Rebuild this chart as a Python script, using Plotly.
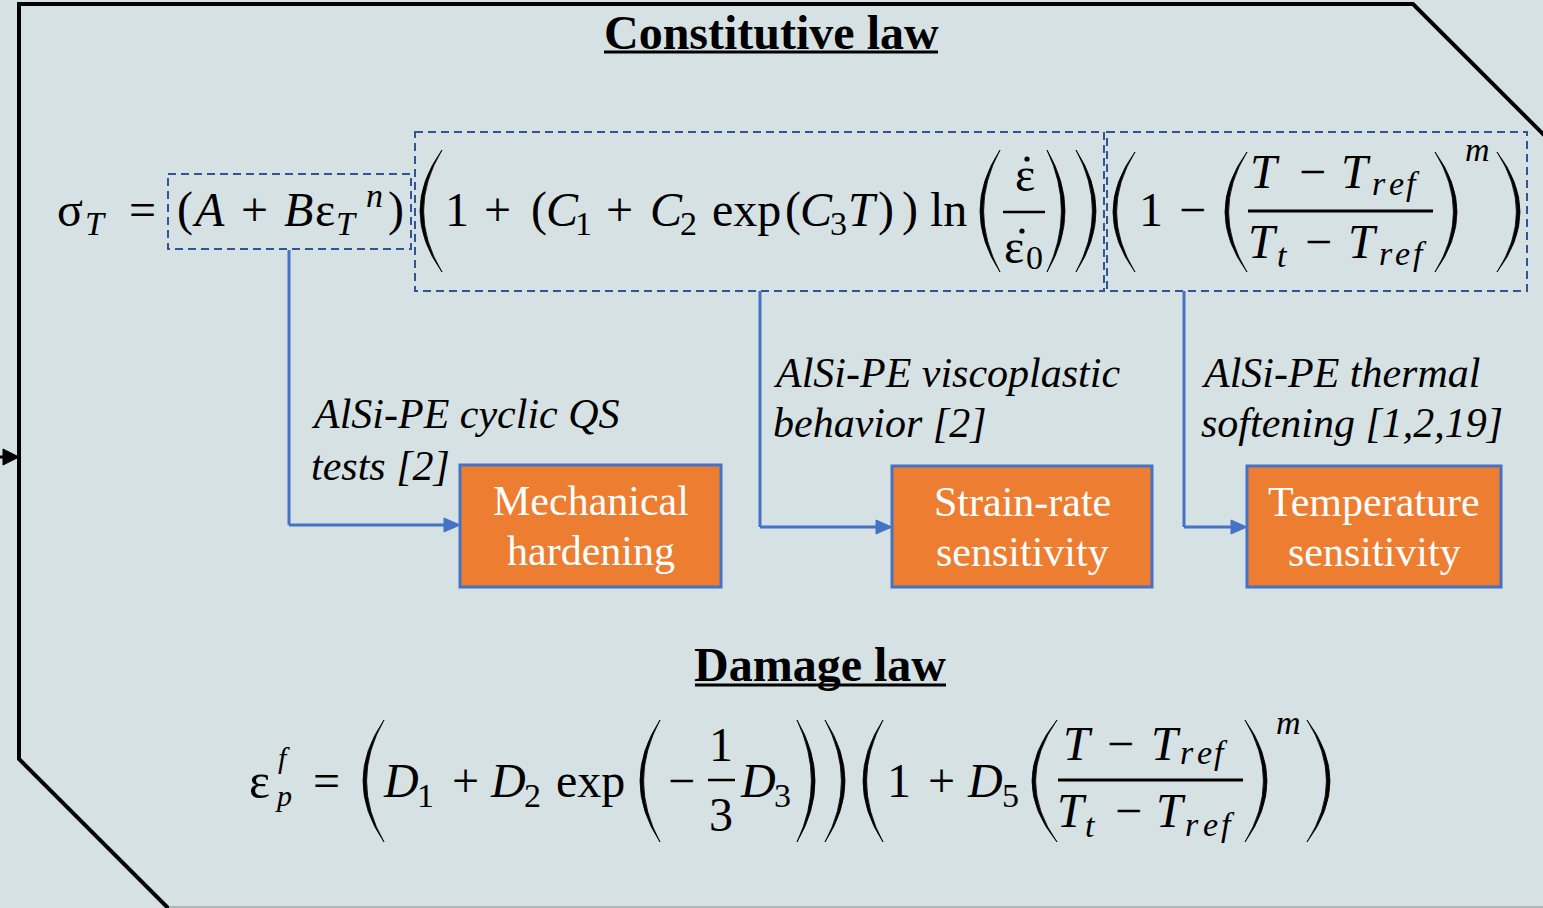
import plotly.graph_objects as go

# ---------------- content (text) ----------------
TITLE_TOP = "Constitutive law"
TITLE_BOTTOM = "Damage law"
BOX_LABELS = [["Mechanical", "hardening"],
              ["Strain-rate", "sensitivity"],
              ["Temperature", "sensitivity"]]
SOURCE_LABELS = [["AlSi-PE cyclic QS", "tests [2]"],
                 ["AlSi-PE viscoplastic", "behavior [2]"],
                 ["AlSi-PE thermal", "softening [1,2,19]"]]

# ---------------- layout geometry (pixels, y downwards) ----------------
W, H = 1543, 908
BG = "#D6E1E3"
BLUE = "#4472C4"
DASH_BLUE = "#2F5597"
ORANGE = "#ED7D31"
SERIF = "Liberation Serif"

BOX_RECTS = [(460, 465, 721, 587), (892, 466, 1152, 587), (1247, 466, 1501, 587)]
SOURCE_POS = [(310, 414, 466), (772, 373, 423), (1200, 373, 423)]
CONNECT = [(289, 250, 525), (760, 291, 527), (1184, 291, 527)]
DASH_RECTS = [(168, 174, 411, 249), (415, 132, 1104, 291), (1107, 132, 1527, 291)]

shapes, annotations = [], []


def txt(x, y, s, size=48, italic=False, color="black", xanchor="center", family=SERIF):
    annotations.append(dict(
        x=x, y=y, xref="x", yref="y", text=s, showarrow=False,
        xanchor=xanchor, yanchor="middle", borderpad=0,
        font=dict(family=family, size=size, color=color,
                  style="italic" if italic else "normal")))


def word(x0, x1, y, letters, size=34, italic=True):
    n = len(letters)
    step = (x1 - x0) / n
    for i, ch in enumerate(letters):
        txt(x0 + step * (i + 0.5), y, ch, size, italic)


def seg(x0, y0, x1, y1, color="black", width=3, dash=None):
    ln = dict(color=color, width=width)
    if dash:
        ln["dash"] = dash
    shapes.append(dict(type="line", xref="x", yref="y", x0=x0, y0=y0, x1=x1, y1=y1, line=ln))


def paren(xa, xb, y0, y1, left=True, th=3.6):
    ym = (y0 + y1) / 2
    if left:
        tip, ext, ext_in = xb, xa, xa + th
    else:
        tip, ext, ext_in = xa, xb, xb - th
    c_out = 2 * ext - tip
    c_in = 2 * ext_in - tip
    path = f"M {tip},{y0} Q {c_out},{ym} {tip},{y1} Q {c_in},{ym} {tip},{y0} Z"
    shapes.append(dict(type="path", xref="x", yref="y", path=path,
                       fillcolor="black", line=dict(color="black", width=0.8)))


def dot(x, y, r=2.6):
    shapes.append(dict(type="circle", xref="x", yref="y", x0=x - r, x1=x + r, y0=y - r, y1=y + r,
                       fillcolor="black", line=dict(width=0)))


def tri(points, color):
    p = "M " + " L ".join(f"{a},{b}" for a, b in points) + " Z"
    shapes.append(dict(type="path", xref="x", yref="y", path=p, fillcolor=color, line=dict(color=color, width=1)))


# ---------------- outer frame ----------------
shapes.append(dict(type="path", xref="x", yref="y",
                   path="M 1560,151 L 1413,4 L 19,4 L 19,759 L 169,909",
                   line=dict(color="black", width=4)))
seg(169, 907, 1543, 907, color="#AEB6B8", width=2)
seg(0, 457, 12, 457, color="black", width=3)
tri([(3, 449), (19, 457), (3, 465)], "black")

# ---------------- titles ----------------
txt(771, 32, f"<b>{TITLE_TOP}</b>", 48)
seg(604, 52, 938, 52, width=3)
txt(820, 664, f"<b>{TITLE_BOTTOM}</b>", 48)
seg(695, 685, 946, 685, width=3)

# ---------------- dashed boxes ----------------
for (x0, y0, x1, y1) in DASH_RECTS:
    shapes.append(dict(type="rect", xref="x", yref="y", x0=x0, y0=y0, x1=x1, y1=y1,
                       line=dict(color=DASH_BLUE, width=2, dash="8px,5px"), fillcolor="rgba(0,0,0,0)"))

# ---------------- connectors ----------------
for (cx, ytop, yarr), (bx0, by0, bx1, by1) in zip(CONNECT, BOX_RECTS):
    seg(cx, ytop, cx, yarr, color=BLUE, width=3)
    seg(cx, yarr, bx0 - 12, yarr, color=BLUE, width=3)
    tri([(bx0 - 16, yarr - 7), (bx0, yarr), (bx0 - 16, yarr + 7)], BLUE)

# ---------------- orange boxes ----------------
for (x0, y0, x1, y1), lines in zip(BOX_RECTS, BOX_LABELS):
    shapes.append(dict(type="rect", xref="x", yref="y", x0=x0, y0=y0, x1=x1, y1=y1,
                       fillcolor=ORANGE, line=dict(color=BLUE, width=3)))
    cx, cy = (x0 + x1) / 2, (y0 + y1) / 2
    txt(cx, cy - 25, lines[0], 42, color="white")
    txt(cx, cy + 25, lines[1], 42, color="white")

# ---------------- source labels ----------------
for (lx, y1, y2), lines in zip(SOURCE_POS, SOURCE_LABELS):
    txt(lx, y1, lines[0], 42, italic=True, xanchor="left")
    txt(lx, y2, lines[1], 42, italic=True, xanchor="left")

# ---------------- constitutive equation ----------------
M, S = 48, 34
Y = 209
SB = Y + 14
txt(70, Y, "σ", M)
txt(95, SB, "T", S, True)
txt(142, Y, "=", M)
txt(185, Y, "(", M)
txt(208, Y, "A", M, True)
txt(254, Y, "+", M)
txt(298, Y, "B", M, True)
txt(325, Y, "ε", M)
txt(346, SB, "T", S, True)
txt(374, 195, "n", S, True)
txt(396, Y, ")", M)

paren(420, 442, 150, 272, True)
txt(457, Y, "1", M)
txt(497, Y, "+", M)
txt(539, Y, "(", M)
txt(562, Y, "C", M, True)
txt(583, SB, "1", S)
txt(619, Y, "+", M)
txt(666, Y, "C", M, True)
txt(688, SB, "2", S)
txt(746, Y, "exp", M)
txt(793, Y, "(", M)
txt(816, Y, "C", M, True)
txt(838, SB, "3", S)
txt(863, Y, "T", M, True)
txt(886, Y, ")", M)
txt(910, Y, ")", M)
txt(948, Y, "ln", M)
paren(980, 1000, 150, 272, True)
txt(1025, 174, "ε", M)
dot(1027, 159)
seg(1003, 212, 1045, 212, width=2.5)
txt(1014, 246, "ε", M)
dot(1022, 231)
txt(1034, 257, "0", S)
paren(1047, 1065, 150, 272, False)
paren(1076, 1096, 150, 272, False)

paren(1113, 1135, 152, 272, True)
txt(1151, Y, "1", M)
txt(1192, Y, "−", M)
paren(1225, 1247, 152, 272, True)
txt(1265, 171, "T", M, True)
txt(1312, 171, "−", M)
txt(1356, 171, "T", M, True)
word(1370, 1422, 183, "ref")
seg(1248, 211, 1433, 211, width=3)
txt(1263, 241, "T", M, True)
txt(1282, 255, "t", S, True)
txt(1318, 241, "−", M)
txt(1363, 241, "T", M, True)
word(1377, 1428, 253, "ref")
paren(1435, 1457, 152, 272, False)
txt(1477, 149, "m", S, True)
paren(1497, 1520, 152, 272, False)

# ---------------- damage equation ----------------
Y2 = 780
SB2 = Y2 + 15
txt(259, 781, "ε", 50)
txt(284, 757, "f", 30, True)
txt(283, 795, "p", 30, True)
txt(326, Y2, "=", M)
paren(363, 384, 720, 842, True)
txt(401, Y2, "D", M, True)
txt(425, SB2, "1", S)
txt(465, Y2, "+", M)
txt(508, Y2, "D", M, True)
txt(532, SB2, "2", S)
txt(590, Y2, "exp", M)
paren(640, 660, 720, 842, True)
txt(681, Y2, "−", M)
txt(721, 744, "1", M)
seg(708, 780, 735, 780, width=2.5)
txt(721, 814, "3", M)
txt(758, Y2, "D", M, True)
txt(782, SB2, "3", S)
paren(797, 815, 720, 842, False)
paren(825, 845, 720, 842, False)

paren(863, 883, 720, 842, True)
txt(899, Y2, "1", M)
txt(941, Y2, "+", M)
txt(985, Y2, "D", M, True)
txt(1010, SB2, "5", S)
paren(1032, 1057, 720, 842, True)
txt(1078, 743, "T", M, True)
txt(1120, 743, "−", M)
txt(1166, 743, "T", M, True)
word(1178, 1230, 752, "ref")
seg(1058, 780, 1243, 780, width=3)
txt(1072, 810, "T", M, True)
txt(1090, 825, "t", S, True)
txt(1128, 810, "−", M)
txt(1171, 810, "T", M, True)
word(1183, 1237, 824, "ref")
paren(1245, 1267, 720, 842, False)
txt(1288, 722, "m", S, True)
paren(1307, 1330, 720, 842, False)

fig = go.Figure()
fig.update_layout(
    width=W, height=H, margin=dict(l=0, r=0, t=0, b=0),
    paper_bgcolor=BG, plot_bgcolor=BG, showlegend=False,
    xaxis=dict(range=[0, W], visible=False, fixedrange=True),
    yaxis=dict(range=[H, 0], visible=False, fixedrange=True),
    shapes=shapes, annotations=annotations,
)
fig.write_html("out.html", config={"displayModeBar": False},
               post_script="document.body.style.margin='0';document.body.style.overflow='hidden';")
